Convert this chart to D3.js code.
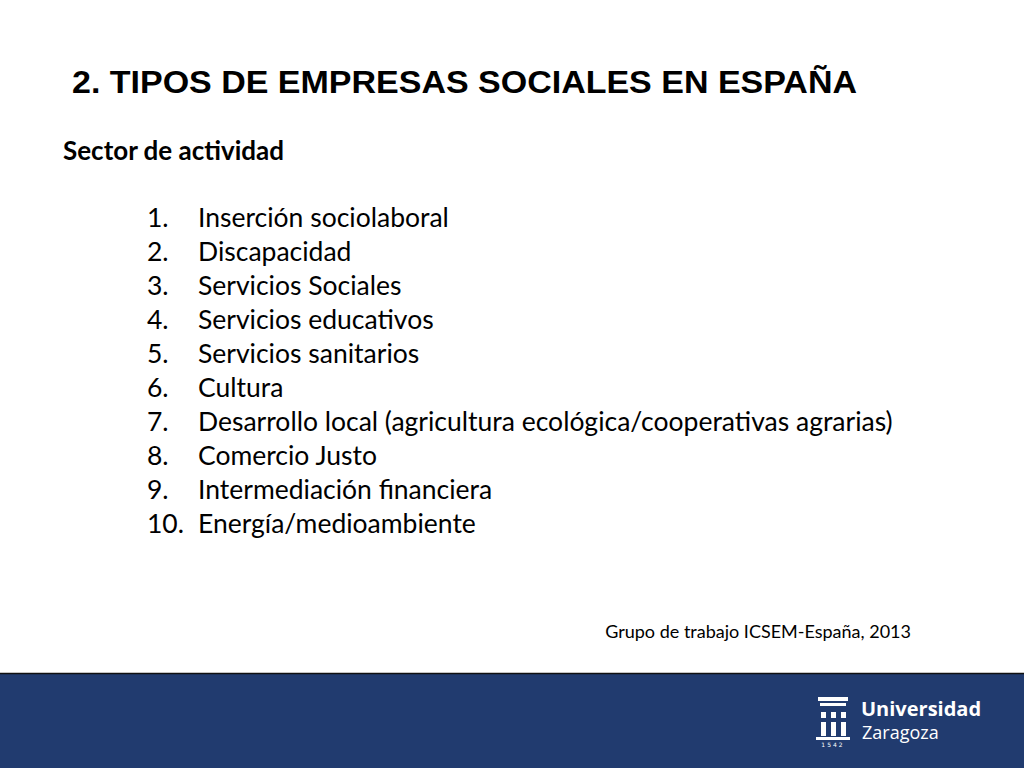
<!DOCTYPE html>
<html><head><meta charset="utf-8">
<script src="https://cdn.jsdelivr.net/npm/d3@7"></script>
<style>body{margin:0;background:#fff}</style>
</head><body>
<script>
// slide content
const title = '2. TIPOS DE EMPRESAS SOCIALES EN ESPAÑA';
const subtitle = 'Sector de actividad';
const sectors = [
  'Inserción sociolaboral', 'Discapacidad', 'Servicios Sociales', 'Servicios educativos',
  'Servicios sanitarios', 'Cultura', 'Desarrollo local (agricultura ecológica/cooperativas agrarias)',
  'Comercio Justo', 'Intermediación financiera', 'Energía/medioambiente'
];
const source = 'Grupo de trabajo ICSEM-España, 2013';

const W = 1024, H = 768;
const svg = d3.select('body').append('svg').attr('width', W).attr('height', H);
const body = 'Lato, "Open Sans", sans-serif';

svg.append('text').attr('x', 72).attr('y', 93)
  .attr('font-family', 'Liberation Sans, Arial, sans-serif').attr('font-weight', 'bold')
  .attr('font-size', 31.5).attr('textLength', 785).attr('lengthAdjust', 'spacingAndGlyphs')
  .attr('fill', '#000').text(title);

svg.append('text').attr('x', 63).attr('y', 160)
  .attr('font-family', body).attr('font-weight', 'bold')
  .attr('font-size', 26).attr('fill', '#000').text(subtitle);

const y = d3.scaleBand().domain(d3.range(sectors.length)).range([202, 542]);

const rows = svg.append('g').selectAll('g').data(sectors).join('g')
  .attr('transform', (d, i) => `translate(0,${y(i) + y.bandwidth() / 2 + 8})`)
  .attr('font-family', body).attr('font-size', 26.5).attr('fill', '#000');
rows.append('text').attr('x', 147).text((d, i) => (i + 1) + '.');
rows.append('text').attr('x', 198).text(d => d);

svg.append('text').attr('x', 911).attr('y', 638).attr('text-anchor', 'end')
  .attr('font-family', body).attr('font-size', 18).attr('fill', '#000').text(source);

// footer band
svg.append('rect').attr('x', 0).attr('y', 673).attr('width', W).attr('height', 95).attr('fill', '#213b6f');
svg.append('line').attr('x1', 0).attr('x2', W).attr('y1', 673.5).attr('y2', 673.5).attr('stroke', '#111').attr('stroke-width', 1.5);

// logo
const logo = svg.append('g').attr('fill', '#fff');
logo.append('rect').attr('x', 818).attr('y', 697).attr('width', 30).attr('height', 4);
logo.append('rect').attr('x', 820).attr('y', 703).attr('width', 26).attr('height', 3);
[[821,712],[831,712],[841,712]].forEach(([x, yy]) => logo.append('rect').attr('x', x).attr('y', yy).attr('width', 5).attr('height', 6));
[[821,722],[831,722],[841,722]].forEach(([x, yy]) => logo.append('rect').attr('x', x).attr('y', yy).attr('width', 5).attr('height', 14));
logo.append('rect').attr('x', 816).attr('y', 737).attr('width', 34).attr('height', 3);
logo.append('text').attr('x', 833).attr('y', 747).attr('text-anchor', 'middle')
  .attr('font-family', 'DejaVu Sans, sans-serif').attr('font-size', 6).attr('letter-spacing', 2).text('1542');
logo.append('text').attr('x', 861).attr('y', 716).attr('font-family', '"Open Sans", sans-serif')
  .attr('font-weight', 'bold').attr('font-size', 20).text('Universidad');
logo.append('text').attr('x', 862).attr('y', 739).attr('font-family', '"Open Sans", sans-serif')
  .attr('font-size', 18).text('Zaragoza');
</script>
</body></html>
